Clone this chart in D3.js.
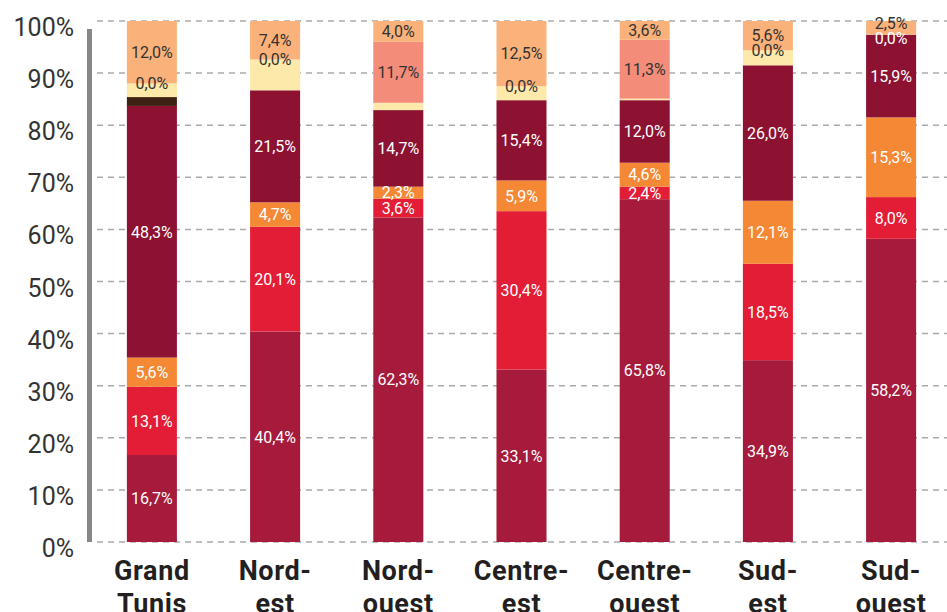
<!DOCTYPE html>
<html>
<head>
<meta charset="utf-8">
<script src="https://cdn.jsdelivr.net/npm/d3@7"></script>
<style>
  body { margin: 0; background: #fff; }
  text { font-family: Roboto, "Noto Sans", sans-serif; }
</style>
</head>
<body>
<div id="chart"></div>
<script>
// Regions (two-line labels)
var categories = ["Grand Tunis", "Nord-est", "Nord-ouest", "Centre-est", "Centre-ouest", "Sud-est", "Sud-ouest"];
var categoryLines = [["Grand", "Tunis"], ["Nord-", "est"], ["Nord-", "ouest"], ["Centre-", "est"], ["Centre-", "ouest"], ["Sud-", "est"], ["Sud-", "ouest"]];

// Series, bottom to top (percent)
var seriesNames = ["s1", "s2", "s3", "s4", "s5", "s6", "s7", "s8"];
var s1 = [16.7, 40.4, 62.3, 33.1, 65.8, 34.9, 58.2];
var s2 = [13.1, 20.1, 3.6, 30.4, 2.4, 18.5, 8.0];
var s3 = [5.6, 4.7, 2.3, 5.9, 4.6, 12.1, 15.3];
var s4 = [48.3, 21.5, 14.7, 15.4, 12.0, 26.0, 15.9];
var s5 = [1.7, 0, 0, 0, 0, 0, 0];
var s6 = [2.6, 5.9, 1.4, 2.7, 0.3, 2.9, 0.1];
var s7 = [0, 0, 11.7, 0, 11.3, 0, 0];
var s8 = [12.0, 7.4, 4.0, 12.5, 3.6, 5.6, 2.5];
var seriesValues = [s1, s2, s3, s4, s5, s6, s7, s8];
var seriesLabelled = [true, true, true, true, false, false, true, true];

var seriesColors = ["#a61b3c", "#e41d36", "#f58834", "#8d1232", "#3d2115", "#fde9a9", "#f48c7a", "#fbb27a"];
var seriesText = ["#fff", "#fff", "#fff", "#fff", "#fff", "#333", "#333", "#333"];

var yTicks = [0, 10, 20, 30, 40, 50, 60, 70, 80, 90, 100];

// Chart dimensions
var width = 947, height = 612;

var x = d3.scaleBand().domain(categories).range([93, 950])
    .paddingInner(0.594).paddingOuter(0.275);
var y = d3.scaleLinear().domain([0, 100]).range([542, 21]);

var fr = d3.formatLocale({decimal: ",", thousands: " ", grouping: [3], currency: ["", ""]});
var fmt = function(v) { return fr.format(".1f")(v) + "%"; };

// build table for the stack
var table = categories.map(function(c, i) {
  var row = {cat: c};
  seriesNames.forEach(function(s, j) { row[s] = seriesValues[j][i]; });
  return row;
});
var stacked = d3.stack().keys(seriesNames)(table);

var svg = d3.select("#chart").append("svg")
    .attr("width", width)
    .attr("height", height);

// gridlines
svg.append("g")
  .selectAll("line")
  .data(yTicks)
  .enter().append("line")
    .attr("x1", 97).attr("x2", width)
    .attr("y1", function(d) { return y(d); })
    .attr("y2", function(d) { return y(d); })
    .attr("stroke", "#aaaaaa")
    .attr("stroke-width", 1.5)
    .attr("stroke-dasharray", "6,5");

// y axis bar
svg.append("rect")
    .attr("x", 87).attr("width", 5)
    .attr("y", y(100) + 8).attr("height", y(0) - y(100) - 8)
    .attr("fill", "#87878a");

// y tick labels
svg.append("g")
  .selectAll("text")
  .data(yTicks)
  .enter().append("text")
    .attr("x", 74)
    .attr("y", function(d) { return y(d) + 15; })
    .attr("text-anchor", "end")
    .attr("font-size", 25)
    .attr("fill", "#333")
    .text(function(d) { return d + "%"; });

// bars
svg.append("g")
  .selectAll("g")
  .data(stacked)
  .enter().append("g")
    .attr("fill", function(d, i) { return seriesColors[i]; })
  .selectAll("rect")
  .data(function(d) { return d; })
  .enter().append("rect")
    .attr("x", function(d) { return x(d.data.cat); })
    .attr("width", x.bandwidth())
    .attr("y", function(d) { return y(d[1]); })
    .attr("height", function(d) { return y(d[0]) - y(d[1]); });

// value labels, nudged apart where they crowd
var labelG = svg.append("g");
categories.forEach(function(c, i) {
  var labs = [];
  stacked.forEach(function(s, j) {
    if (!seriesLabelled[j]) return;
    var d = s[i];
    labs.push({v: d[1] - d[0], y: (y(d[0]) + y(d[1])) / 2});
  });
  labs.sort(function(a, b) { return a.y - b.y; });
  for (var it = 0; it < 20; it++) {
    for (var k = 0; k < labs.length - 1; k++) {
      var gap = labs[k + 1].y - labs[k].y;
      if (gap < 14.5) {
        var p = (14.5 - gap) / 2;
        labs[k].y -= p; labs[k + 1].y += p;
      }
    }
  }
  labs.forEach(function(l) {
    // colour by the segment that sits under the label
    var under = 0;
    stacked.forEach(function(s, j) {
      var d = s[i];
      if (d[1] > d[0] && y(d[1]) <= l.y && y(d[0]) >= l.y) under = j;
    });
    labelG.append("text")
      .attr("x", x(c) + x.bandwidth() / 2)
      .attr("y", l.y)
      .attr("dy", "0.36em")
      .attr("text-anchor", "middle")
      .attr("font-size", 16)
      .attr("fill", seriesText[under])
      .text(fmt(l.v));
  });
});

// category labels
var catG = svg.append("g")
  .selectAll("text")
  .data(categories)
  .enter().append("text")
    .attr("text-anchor", "middle")
    .attr("font-size", 27)
    .attr("font-weight", "bold")
    .attr("letter-spacing", 0.6)
    .attr("fill", "#231f20");

catG.selectAll("tspan")
  .data(function(d, i) { return categoryLines[i].map(function(t) { return {t: t, c: d}; }); })
  .enter().append("tspan")
    .attr("x", function(d) { return x(d.c) + x.bandwidth() / 2; })
    .attr("y", function(d, k) { return 580 + k * 33; })
    .text(function(d) { return d.t; });
</script>
</body>
</html>
